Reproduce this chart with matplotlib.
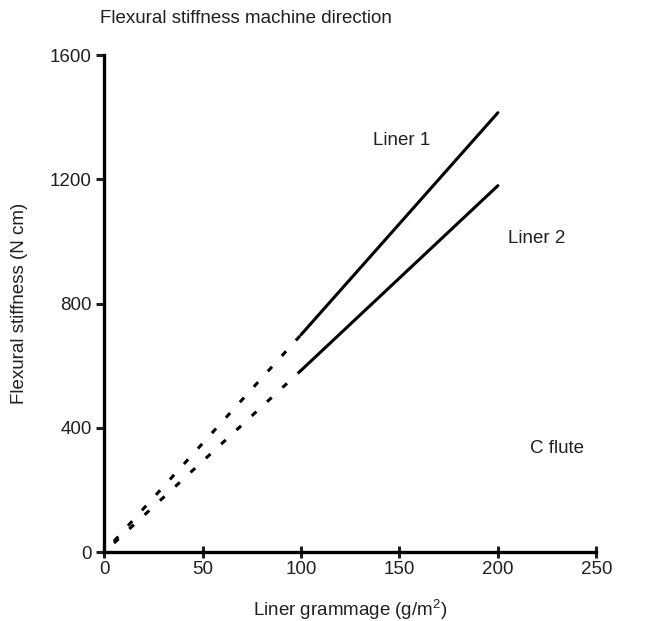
import numpy as np
import matplotlib
matplotlib.use("Agg")
from matplotlib import pyplot as plt

plt.rcParams['font.family'] = ['Liberation Sans', 'DejaVu Sans']
plt.rcParams['mathtext.fontset'] = 'custom'
plt.rcParams['mathtext.rm'] = 'Liberation Sans'
plt.rcParams['lines.scale_dashes'] = False

# measured part of each line (solid)
grammage = [100, 200]
liner1 = [700, 1415]
liner2 = [585, 1180]

# extrapolation towards the origin (dashed)
grammage_ext = [5, 100]
liner1_ext = [35, 700]
liner2_ext = [29, 585]

xticks = [0, 50, 100, 150, 200, 250]
yticks = [0, 400, 800, 1200, 1600]

ink = '#231f20'
fs = 13.5

fig = plt.figure(figsize=(6.51, 6.21), dpi=100)
ax = fig.add_axes([0.16, 0.111, 0.756, 0.8])

ax.plot(grammage, liner1, color='black', lw=2.2, solid_capstyle='round')
ax.plot(grammage, liner2, color='black', lw=2.2, solid_capstyle='round')
ax.plot(grammage_ext, liner1_ext, color='black', lw=2.2, dashes=[4.5, 10.5])
ax.plot(grammage_ext, liner2_ext, color='black', lw=2.2, dashes=[4.5, 10.5])

ax.text(151, 1326, 'Liner 1', fontsize=fs, color=ink, ha='center', va='center')
ax.text(219.5, 1011, 'Liner 2', fontsize=fs, color=ink, ha='center', va='center')
ax.text(230, 335, 'C flute', fontsize=fs, color=ink, ha='center', va='center')

ax.set_xlim(0, 250)
ax.set_ylim(0, 1600)
ax.set_xticks(xticks)
ax.set_yticks(yticks)
ax.tick_params(axis='x', direction='inout', length=9, width=2.2, labelsize=fs, colors=ink, pad=2)
ax.tick_params(axis='y', direction='out', length=6, width=2.2, labelsize=fs, colors=ink, pad=3)
for s in ['top', 'right']:
    ax.spines[s].set_visible(False)
for s in ['left', 'bottom']:
    ax.spines[s].set_linewidth(2.4)
    ax.spines[s].set_color('black')

ax.set_xlabel('Liner grammage (g/m$^{2}$)', fontsize=fs, color=ink, labelpad=14)
ax.set_ylabel('Flexural stiffness (N cm)', fontsize=fs, color=ink, labelpad=16)
fig.text(0.154, 0.97, 'Flexural stiffness machine direction', fontsize=fs, color=ink,
         ha='left', va='center')

fig.savefig('out.png', dpi=100)
